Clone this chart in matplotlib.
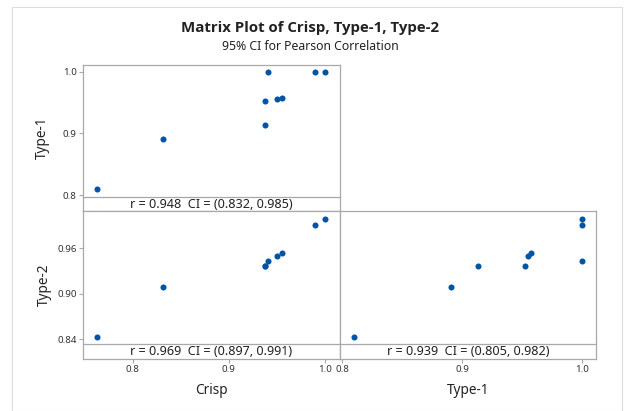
import matplotlib
matplotlib.use("Agg")
import matplotlib.pyplot as plt
from matplotlib.patches import Rectangle

plt.rcParams['font.family'] = ['Noto Sans', 'DejaVu Sans']

# data (9 samples)
crisp = [0.763, 0.831, 0.938, 0.938, 0.941, 0.950, 0.9555, 0.9895, 1.0]
type1 = [0.810, 0.891, 0.953, 0.913, 1.0, 0.955, 0.958, 1.0, 1.0]
type2 = [0.843, 0.909, 0.937, 0.937, 0.943, 0.950, 0.954, 0.991, 0.998]

ann_top_left = "r = 0.948  CI = (0.832, 0.985)"
ann_bot_left = "r = 0.969  CI = (0.897, 0.991)"
ann_bot_right = "r = 0.939  CI = (0.805, 0.982)"

crisp_ticks = [0.8, 0.9, 1.0]
type1_ticks = [0.8, 0.9, 1.0]
type2_ticks = [0.84, 0.90, 0.96]
type2_ticklabels = ["0.84", "0.90", "0.96"]

dot = '#0054a6'
frame = '#a8a8a8'
txt = '#222222'

W, H = 625, 411
fig = plt.figure(figsize=(W / 100, H / 100), dpi=100)

# light outer frame
fig.patches.append(Rectangle((12 / W, 0), 610 / W, 1 - 7 / H, transform=fig.transFigure,
                             fill=False, edgecolor='#dddddd', linewidth=0.8))


def px_axes(x0, y0, x1, y1):
    return fig.add_axes([x0 / W, 1 - y1 / H, (x1 - x0) / W, (y1 - y0) / H])


def style(ax, band_frac, text):
    for s in ax.spines.values():
        s.set_color(frame)
        s.set_linewidth(0.9)
    ax.tick_params(direction='out', length=3, width=0.8, color=frame,
                   labelsize=7, labelcolor='#333333', pad=1.5)
    ax.plot([0, 1], [band_frac, band_frac], transform=ax.transAxes,
            color=frame, linewidth=0.9, clip_on=False)
    ax.text(0.5, band_frac / 2 - 0.004, text, transform=ax.transAxes, ha='center', va='center',
            fontsize=9.1, color=txt)


band_tl = 14 / 146
band_b = 14.2 / 147.5

# top-left: Crisp vs Type-1
ax1 = px_axes(83, 65, 340, 211)
ax1.scatter(crisp, type1, s=19, color=dot, zorder=3, linewidths=0)
ax1.set_xlim(0.7483, 1.0155)
ax1.set_ylim(1.0 - 0.2258, 1.0109)
ax1.set_yticks(type1_ticks)
ax1.set_xticks([])
style(ax1, band_tl, ann_top_left)
ax1.set_ylabel("Type-1", fontsize=9.8, color=txt, labelpad=9)

# bottom-left: Crisp vs Type-2
ax2 = px_axes(83, 211, 340, 358.5)
ax2.scatter(crisp, type2, s=19, color=dot, zorder=3, linewidths=0)
ax2.set_xlim(0.7483, 1.0155)
ax2.set_ylim(0.8147, 1.0092)
ax2.set_yticks(type2_ticks)
ax2.set_yticklabels(type2_ticklabels)
ax2.set_xticks(crisp_ticks)
style(ax2, band_b, ann_bot_left)
ax2.set_ylabel("Type-2", fontsize=9.8, color=txt, labelpad=4)
ax2.set_xlabel("Crisp", fontsize=9.8, color=txt, labelpad=7)

# bottom-right: Type-1 vs Type-2
ax3 = px_axes(340, 211, 595.7, 358.5)
ax3.scatter(type1, type2, s=19, color=dot, zorder=3, linewidths=0)
ax3.set_xlim(0.798, 1.0117)
ax3.set_ylim(0.8147, 1.0092)
ax3.set_yticks([])
ax3.set_xticks(type1_ticks)
style(ax3, band_b, ann_bot_right)
ax3.set_xlabel("Type-1", fontsize=9.8, color=txt, labelpad=7)

fig.text(310 / W, 1 - 28 / H, "Matrix Plot of Crisp, Type-1, Type-2", ha='center', va='center',
         fontsize=10.8, fontweight='bold', color=txt, family=['Open Sans', 'DejaVu Sans'])
fig.text(310 / W, 1 - 47 / H, "95% CI for Pearson Correlation", ha='center', va='center',
         fontsize=8.8, color=txt)

fig.savefig("out.png", dpi=100)
